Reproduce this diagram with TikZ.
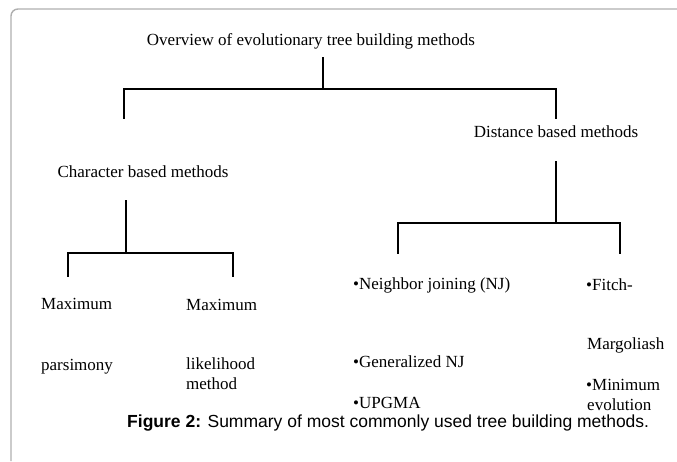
\documentclass[tikz,border=0pt]{standalone}
\usepackage{fontspec}
\setmainfont{Liberation Serif}
\setsansfont{Liberation Sans}
\usepackage{tikz}
\usetikzlibrary{positioning}
\usepackage{xcolor}
\definecolor{framec}{RGB}{175,175,175}
\tikzset{
  txt/.style={inner sep=0pt,anchor=west,font=\fontsize{17}{20}\selectfont,text height=0.7em,text depth=0.22em},
  ttl/.style={txt,anchor=center},
  figcap/.style={inner sep=0pt,anchor=west,font=\sffamily\fontsize{17.5}{21}\selectfont},
  tree/.style={line width=1.8pt,black,line cap=rect},
  frame/.style={line width=1.4pt,framec,rounded corners=7pt},
}
\begin{document}
\begin{tikzpicture}[x=1pt,y=-1pt]
  \useasboundingbox (0,0) rectangle (677,461);
  \draw[frame] (11,461) -- (11,9) -- (677,9);
  % headings
  \node[ttl](ov) at (311,43){Overview of evolutionary tree building methods};
  \node[ttl](db) at (556,135){Distance based methods};
  \node[ttl](cb) at (143,175){Character based methods};
  % leaves
  \node[txt](mx1) at (41,307){Maximum};
  \node[txt](pars) at (41,368){parsimony};
  \node[txt](mx2) at (186,308){Maximum};
  \node[txt](lik) at (186,367){likelihood};
  \node[txt](meth) at (186,387){method};
  \node[txt](nj) at (353,287){•Neighbor joining (NJ)};
  \node[txt](gnj) at (353,365){•Generalized NJ};
  \node[txt](upg) at (353,406){•UPGMA};
  \node[txt](fi) at (586,288){•Fitch-};
  \node[txt](mar) at (587,347){Margoliash};
  \node[txt](mi) at (586,388){•Minimum};
  \node[txt](evo) at (587,408){evolution};
  % branch points
  \coordinate (ovt) at (323,58); \coordinate (ovj) at (323,89);
  \coordinate (ovl) at (124,89); \coordinate (ovr) at (556,89);
  \coordinate (ovle) at (124,118); \coordinate (ovre) at (556,118);
  \coordinate (cbt) at (126,201); \coordinate (cbj) at (126,253);
  \coordinate (cbl) at (68,253); \coordinate (cbr) at (233,253);
  \coordinate (cble) at (68,276); \coordinate (cbre) at (233,276);
  \coordinate (dbt) at (556,162); \coordinate (dbj) at (556,223);
  \coordinate (dbl) at (398,223); \coordinate (dbr) at (620,223);
  \coordinate (dble) at (398,253); \coordinate (dbre) at (620,253);
  \draw[tree] (ovt)--(ovj); \draw[tree] (ovle)--(ovl)--(ovr)--(ovre);
  \draw[tree] (cbt)--(cbj); \draw[tree] (cble)--(cbl)--(cbr)--(cbre);
  \draw[tree] (dbt)--(dbj); \draw[tree] (dble)--(dbl)--(dbr)--(dbre);
  \node[figcap](fig) at (127,423){\textbf{Figure 2:} Summary of most commonly used tree building methods.};
\end{tikzpicture}
\end{document}
